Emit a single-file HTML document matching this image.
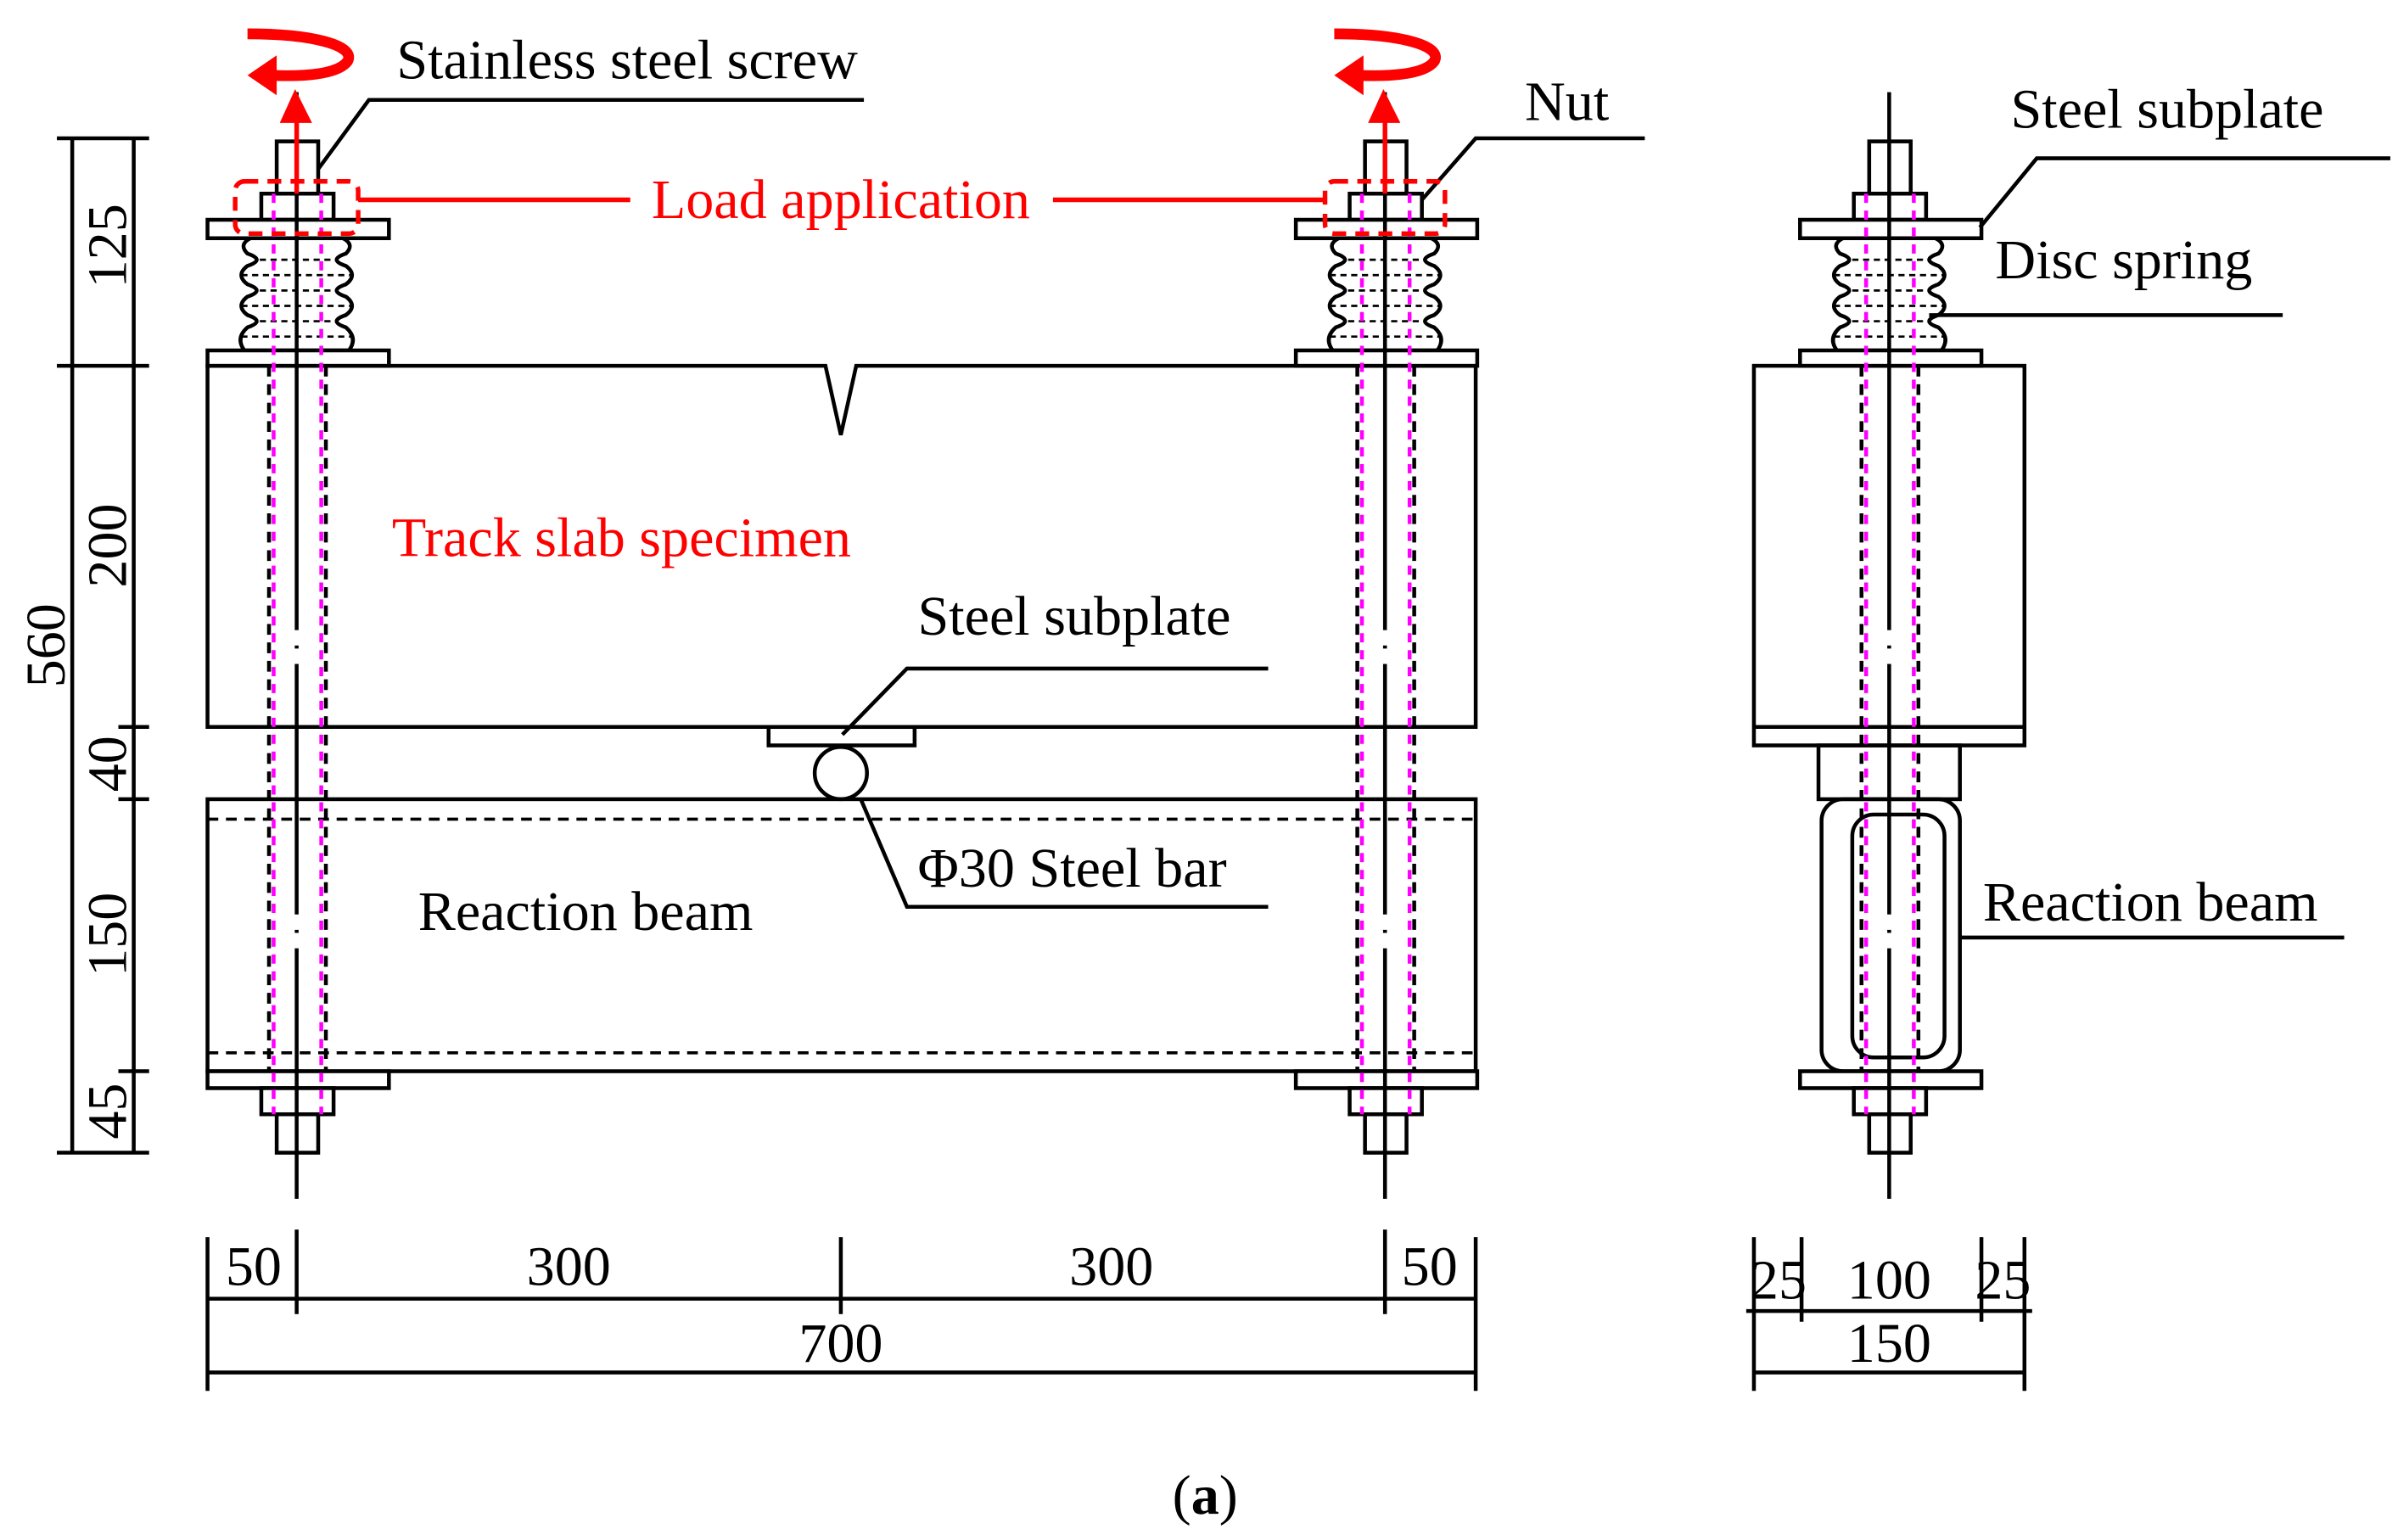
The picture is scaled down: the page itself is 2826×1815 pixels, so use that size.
<!DOCTYPE html>
<html><head><style>html,body{margin:0;padding:0;background:#fff}svg{display:block}
text{font-family:"Liberation Serif",serif;font-size:36.5px;fill:#000}</style></head>
<body>
<svg width="2826" height="1815" viewBox="0 0 1560 1002" preserveAspectRatio="none" xmlns="http://www.w3.org/2000/svg">
<defs>
<g id="spring" fill="none" stroke="#000" stroke-width="2.5">
<path d="M-30,0 L30,0 Q38,4 32,10 Q20,14 32,18 Q40,24 32,30 Q20,34 32,38 Q40,44 32,50 Q20,54 32,58 Q40,65 34,73 L-34,73 Q-40,65 -32,58 Q-20,54 -32,50 Q-40,44 -32,38 Q-20,34 -32,30 Q-40,24 -32,18 Q-20,14 -32,10 Q-38,4 -30,0 Z"/>
<path d="M-24,14 H24 M-36,24 H36 M-24,34 H24 M-36,44 H36 M-24,54 H24 M-36,64 H36" stroke-width="1.5" stroke-dasharray="4 3"/>
</g>
<g id="rods">
<line x1="-18" y1="238" x2="-18" y2="697" stroke="#000" stroke-width="2.5" stroke-dasharray="7 5"/>
<line x1="19" y1="238" x2="19" y2="697" stroke="#000" stroke-width="2.5" stroke-dasharray="7 5"/>
<line x1="-15" y1="126" x2="-15" y2="725" stroke="#f0f" stroke-width="2.5" stroke-dasharray="6 5"/>
<line x1="16" y1="126" x2="16" y2="725" stroke="#f0f" stroke-width="2.5" stroke-dasharray="6 5"/>
<path d="M0,60 V410 M0,420 v2 M0,432 V595 M0,605 v2 M0,617 V780" stroke="#000" stroke-width="2.5"/>
</g>
<g id="top" fill="#fff" stroke="#000" stroke-width="2.5">
<rect x="-13" y="92" width="27" height="34"/>
<rect x="-23" y="126" width="47" height="17"/>
<rect x="-58" y="143" width="118" height="12"/>
<use href="#spring" y="155"/>
<rect x="-58" y="228" width="118" height="10"/>
<rect x="-58" y="697" width="118" height="11"/>
<rect x="-23" y="708" width="47" height="17"/>
<rect x="-13" y="725" width="27" height="25"/>
</g>
</defs>
<g fill="none" stroke="#000" stroke-width="2.5">
<path d="M135,238 H537 L547,283 L557,238 H960 V473 H135 Z" fill="#fff"/>
<rect x="500" y="473" width="95" height="12"/>
<circle cx="547" cy="503" r="17"/>
<rect x="135" y="520" width="825" height="177"/>
<path d="M135,533 H960 M135,685 H960" stroke-dasharray="7 5" stroke-width="2"/>
<rect x="1141" y="238" width="176" height="247"/>
<line x1="1141" y1="473" x2="1317" y2="473"/>
<rect x="1183" y="485" width="92" height="35"/>
<rect x="1185" y="520" width="90" height="177" rx="14"/>
<rect x="1205" y="530" width="60" height="158" rx="14"/>
</g>
<use href="#top" x="193"/><use href="#top" x="901"/><use href="#top" x="1229"/>
<use href="#rods" x="193"/><use href="#rods" x="901"/><use href="#rods" x="1229"/>
<g stroke="#000" stroke-width="2.5" fill="none">
<path d="M47,90 V750 M87,90 V750"/>
<path d="M37,90 H97 M37,238 H97 M77,473 H97 M77,520 H97 M77,697 H97 M37,750 H97"/>
<path d="M135,805 V905 M193,800 V855 M547,805 V855 M901,800 V855 M960,805 V905 M135,845 H960 M135,893 H960"/>
<path d="M1141,805 V905 M1172,805 V860 M1289,805 V860 M1317,805 V905 M1136,853 H1322 M1141,893 H1317"/>
<path d="M207,110 L240,65 H562"/>
<path d="M925,130 L960,90 H1070"/>
<path d="M1288,148 L1325,103 H1555"/>
<path d="M1255,205 H1485"/>
<path d="M548,478 L590,435 H825"/>
<path d="M560,520 L590,590 H825"/>
<path d="M1275,610 H1525"/>
</g>
<g font-size="32">
<text transform="translate(82,160) rotate(-90)" text-anchor="middle">125</text>
<text transform="translate(82,355) rotate(-90)" text-anchor="middle">200</text>
<text transform="translate(82,497) rotate(-90)" text-anchor="middle">40</text>
<text transform="translate(82,608) rotate(-90)" text-anchor="middle">150</text>
<text transform="translate(82,723) rotate(-90)" text-anchor="middle">45</text>
<text transform="translate(42,420) rotate(-90)" text-anchor="middle">560</text>
<text x="165" y="836" text-anchor="middle">50</text>
<text x="370" y="836" text-anchor="middle">300</text>
<text x="723" y="836" text-anchor="middle">300</text>
<text x="930" y="836" text-anchor="middle">50</text>
<text x="547" y="886" text-anchor="middle">700</text>
<text x="1157" y="845" text-anchor="middle">25</text>
<text x="1229" y="845" text-anchor="middle">100</text>
<text x="1303" y="845" text-anchor="middle">25</text>
<text x="1229" y="886" text-anchor="middle">150</text>
</g>
<text x="258" y="51">Stainless steel screw</text>
<text x="992" y="78">Nut</text>
<text x="1308" y="83">Steel subplate</text>
<text x="1298" y="181">Disc spring</text>
<text x="597" y="413">Steel subplate</text>
<text x="597" y="577">Φ30 Steel bar</text>
<text x="272" y="605">Reaction beam</text>
<text x="1290" y="599">Reaction beam</text>
<text x="255" y="362" style="fill:#f00">Track slab specimen</text>
<text x="547" y="142" text-anchor="middle" style="fill:#f00">Load application</text>
<text x="784" y="985" text-anchor="middle" font-size="40">(<tspan font-weight="bold">a</tspan>)</text>
<g stroke="#f00" fill="none" stroke-width="3">
<path d="M233,130 H410 M685,130 H862"/>
<rect x="153" y="118" width="80" height="34" rx="6" stroke-dasharray="9 6"/>
<rect x="862" y="118" width="78" height="34" rx="6" stroke-dasharray="9 6"/>
<path d="M193,126 V75 M901,126 V75"/>
<path d="M161,22 C205,22 232,30 226,40 C220,48 200,50 176,49" stroke-width="7"/>
<path d="M868,22 C912,22 939,30 933,40 C927,48 907,50 883,49" stroke-width="7"/>
</g>
<g fill="#f00">
<polygon points="192,58 182,80 203,80"/><polygon points="900,58 890,80 911,80"/>
<polygon points="161,49 180,36 180,62"/><polygon points="868,49 887,36 887,62"/>
</g>
</svg>
</body></html>
